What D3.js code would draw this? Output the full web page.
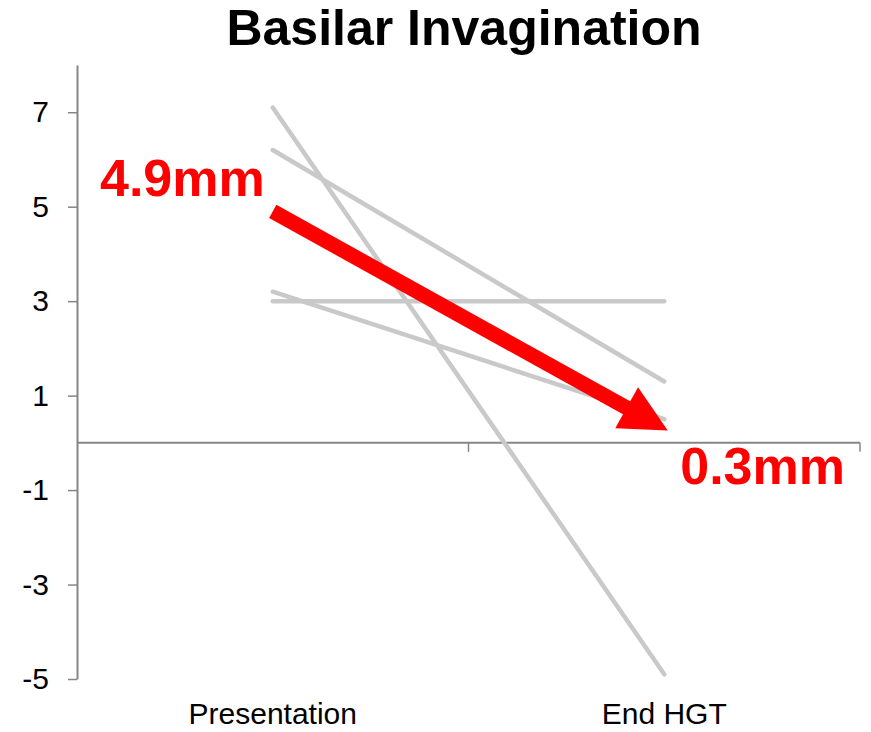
<!DOCTYPE html>
<html>
<head>
<meta charset="utf-8">
<script src="https://cdn.jsdelivr.net/npm/d3@7"></script>
<style>
  body { margin: 0; background: #fff; }
  text { font-family: "Liberation Sans", Arial, sans-serif; }
</style>
</head>
<body>
<script>
// dados
var categorias = ["Presentation", "End HGT"];
var pacientes = [
	[7.1, -4.9],
	[6.2, 1.3],
	[3.2, 0.5],
	[3.0, 3.0]
];
var media = [4.9, 0.3];
var rotulosMedia = ["4.9mm", "0.3mm"];
var yTicks = [7, 5, 3, 1, -1, -3, -5];

var width = 871;
var height = 732;
var svg = d3.select("body").append("svg")
	.attr("width", width)
	.attr("height", height);

var x = d3.scaleBand().domain(categorias).range([77, 860]);
var y = d3.scaleLinear().domain([-5, 8]).range([679, 65]);
var cx = function(i) { return x(categorias[i]) + x.bandwidth() / 2; };

// titulo
svg.append("text")
	.attr("x", 464)
	.attr("y", 45)
	.attr("text-anchor", "middle")
	.attr("font-size", 50)
	.attr("font-weight", "bold")
	.text("Basilar Invagination");

// eixo y (hifen simples no sinal, como no original)
var eixoY = svg.append("g")
	.attr("transform", "translate(77,0)")
	.call(d3.axisLeft(y).tickValues(yTicks).tickFormat(d => String(d))
		.tickSizeInner(9).tickSizeOuter(0).tickPadding(19));
eixoY.select(".domain").attr("stroke", "#868686").attr("stroke-width", 2);
eixoY.selectAll(".tick line").attr("stroke", "#868686").attr("stroke-width", 1.5);
eixoY.selectAll(".tick text").attr("font-size", 30).attr("fill", "#000")
	.attr("font-family", "Liberation Sans, Arial, sans-serif");

// eixo x (linha no zero, marcas nos limites das categorias)
var eixoX = svg.append("g");
eixoX.append("line")
	.attr("x1", x.range()[0]).attr("x2", x.range()[1])
	.attr("y1", y(0)).attr("y2", y(0))
	.attr("stroke", "#868686").attr("stroke-width", 2);
eixoX.selectAll(".marca")
	.data(categorias)
	.enter().append("line")
	.attr("class", "marca")
	.attr("x1", d => x(d) + x.bandwidth())
	.attr("x2", d => x(d) + x.bandwidth())
	.attr("y1", y(0))
	.attr("y2", y(0) + 9)
	.attr("stroke", "#868686").attr("stroke-width", 1.5);

// rotulos das categorias embaixo
var rotulosX = svg.append("g")
	.attr("transform", "translate(0," + y(-5) + ")")
	.call(d3.axisBottom(x).tickSize(0).tickPadding(24));
rotulosX.select(".domain").remove();
rotulosX.selectAll(".tick text").attr("font-size", 30).attr("fill", "#000")
	.attr("font-family", "Liberation Sans, Arial, sans-serif");

// linhas de cada paciente
var linha = d3.line()
	.x((d, i) => cx(i))
	.y(d => y(d));
svg.selectAll(".paciente")
	.data(pacientes)
	.enter().append("path")
	.attr("class", "paciente")
	.attr("d", linha)
	.attr("fill", "none")
	.attr("stroke", "#c9c9c9")
	.attr("stroke-width", 4.5)
	.attr("stroke-linecap", "round");

// seta da media
var p0 = [cx(0), y(media[0])];
var p1 = [cx(1), y(media[1])];
var dx = p1[0] - p0[0], dy = p1[1] - p0[1];
var len = Math.sqrt(dx * dx + dy * dy);
var u = [dx / len, dy / len];
var n = [-u[1], u[0]];
var ponta = [p1[0] + u[0] * 4, p1[1] + u[1] * 4];
var base = [ponta[0] - u[0] * 47, ponta[1] - u[1] * 47];

svg.append("line")
	.attr("x1", p0[0]).attr("y1", p0[1])
	.attr("x2", base[0] + u[0] * 3).attr("y2", base[1] + u[1] * 3)
	.attr("stroke", "#ff0000")
	.attr("stroke-width", 15);
svg.append("path")
	.attr("d", "M" + ponta + "L" + [base[0] + n[0] * 23.5, base[1] + n[1] * 23.5] +
		"L" + [base[0] - n[0] * 23.5, base[1] - n[1] * 23.5] + "Z")
	.attr("fill", "#ff0000");

// rotulos da media
svg.append("text")
	.attr("x", p0[0] - 8)
	.attr("y", p0[1] - 15)
	.attr("text-anchor", "end")
	.attr("font-size", 52)
	.attr("font-weight", "bold")
	.attr("fill", "#ff0000")
	.text(rotulosMedia[0]);
svg.append("text")
	.attr("x", p1[0] + 16)
	.attr("y", p1[1] + 55)
	.attr("text-anchor", "start")
	.attr("font-size", 52)
	.attr("font-weight", "bold")
	.attr("fill", "#ff0000")
	.text(rotulosMedia[1]);
</script>
</body>
</html>
